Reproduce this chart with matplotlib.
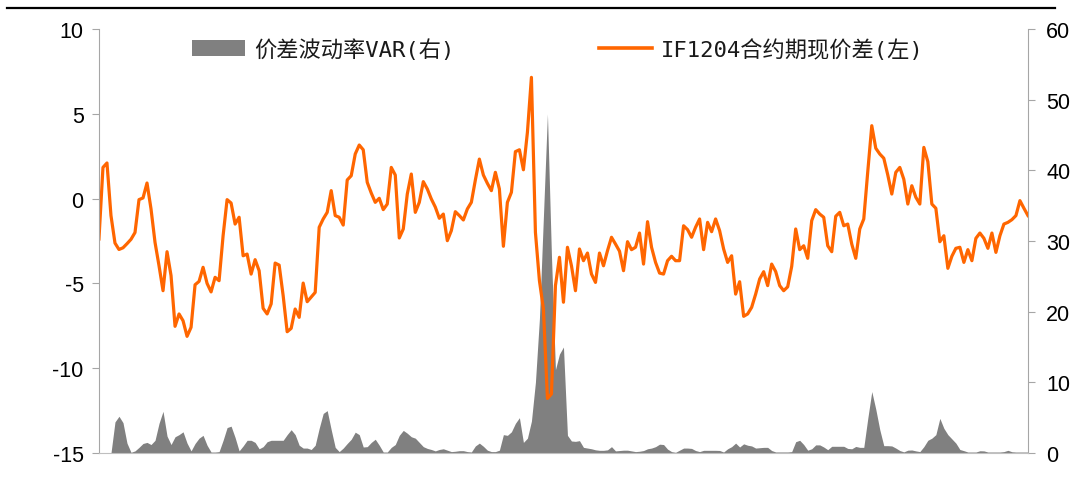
import numpy as np
import matplotlib.pyplot as plt
from matplotlib.lines import Line2D
from matplotlib.patches import Patch

# IF1204 期现价差 (left axis) and 价差波动率VAR (right axis), one value per trading day
spread = [-2.38, 1.84, 2.1, -1.0, -2.62, -3.0, -2.9, -2.66, -2.4, -2.0,
          -0.06, 0.04, 0.92, -0.61, -2.58, -3.96, -5.43, -3.13, -4.54, -7.53,
          -6.8, -7.2, -8.12, -7.59, -5.08, -4.88, -4.05, -5.0, -5.5, -4.64,
          -4.84, -2.19, -0.06, -0.26, -1.5, -1.1, -3.37, -3.27, -4.45, -3.6,
          -4.25, -6.47, -6.8, -6.21, -3.8, -3.92, -5.72, -7.85, -7.65, -6.51,
          -7.0, -4.98, -6.08, -5.8, -5.53, -1.69, -1.2, -0.81, 0.47, -1.0,
          -1.1, -1.56, 1.1, 1.35, 2.63, 3.16, 2.88, 0.96, 0.33, -0.22,
          0.02, -0.65, -0.32, 1.84, 1.39, -2.32, -1.79, 0.27, 1.45, -0.81,
          -0.22, 1.0, 0.57, -0.02, -0.5, -1.16, -0.91, -2.48, -1.89, -0.77,
          -1.0, -1.26, -0.61, -0.22, 1.1, 2.33, 1.39, 0.9, 0.47, 1.55,
          0.57, -2.81, -0.22, 0.37, 2.77, 2.88, 1.7, 3.91, 7.15, -1.99,
          -4.84, -6.51, -11.78, -11.52, -5.13, -3.46, -6.11, -2.87, -3.96, -5.43,
          -2.97, -3.66, -3.21, -4.45, -4.94, -3.21, -3.96, -3.07, -2.28, -2.68,
          -3.1, -4.25, -2.54, -3.01, -2.87, -2.03, -3.86, -1.36, -2.87, -3.76,
          -4.39, -4.45, -3.66, -3.4, -3.66, -3.66, -1.6, -1.83, -2.28, -1.69,
          -1.2, -3.01, -1.4, -1.95, -1.2, -1.89, -2.97, -3.76, -3.37, -5.63,
          -4.9, -6.94, -6.8, -6.41, -5.63, -4.74, -4.31, -5.13, -3.86, -4.3,
          -5.13, -5.43, -5.2, -4.0, -1.79, -3.01, -2.78, -3.52, -1.3, -0.65,
          -0.91, -1.1, -2.78, -3.13, -1.04, -0.81, -1.6, -1.5, -2.68, -3.52,
          -1.79, -1.2, 1.6, 4.3, 2.97, 2.63, 2.38, 1.39, 0.27, 1.55,
          1.84, 1.14, -0.32, 0.76, 0.08, -0.32, 3.02, 2.18, -0.32, -0.57,
          -2.54, -2.19, -4.11, -3.4, -2.93, -2.87, -3.76, -3.01, -3.66, -2.34,
          -2.03, -2.34, -2.93, -2.03, -3.17, -2.19, -1.5, -1.4, -1.24, -1.0,
          -0.12, -0.57, -1.0]

var = [0, 0, 0, 0, 4.4, 5.2, 4.3, 1.4, 0.1, 0.3,
       0.8, 1.35, 1.5, 1.2, 1.8, 4.2, 5.9, 2.4, 1.2, 2.3,
       2.6, 3.0, 1.4, 0.3, 1.35, 2.1, 2.5, 1.1, 0.14, 0.14,
       0.2, 1.8, 3.6, 3.8, 2.2, 0.3, 1.0, 1.8, 1.8, 1.5,
       0.6, 0.9, 1.6, 1.8, 1.8, 1.8, 1.8, 2.6, 3.3, 2.6,
       1.1, 0.7, 0.7, 0.5, 1.1, 3.5, 5.6, 6.0, 3.3, 0.8,
       0.2, 0.7, 1.35, 1.95, 2.95, 2.6, 0.85, 0.9, 1.5, 1.95,
       1.1, 0.14, 0.14, 0.8, 1.2, 2.5, 3.2, 2.8, 2.3, 2.1,
       1.5, 0.9, 0.65, 0.5, 0.3, 0.5, 0.6, 0.4, 0.2, 0.25,
       0.33, 0.33, 0.2, 0.15, 1.0, 1.4, 0.95, 0.4, 0.2, 0.2,
       0.4, 2.6, 2.5, 3.0, 4.2, 5.0, 1.5, 2.1, 4.5, 10.0,
       19.0, 33.5, 48.0, 28.0, 11.8, 14.0, 15.0, 2.5, 1.7, 1.65,
       1.75, 0.8, 0.7, 0.6, 0.45, 0.38, 0.38, 0.45, 0.9, 0.3,
       0.35, 0.4, 0.4, 0.3, 0.2, 0.25, 0.35, 0.6, 0.7, 0.9,
       1.25, 1.2, 0.55, 0.2, 0.1, 0.4, 0.7, 0.7, 0.65, 0.35,
       0.2, 0.38, 0.38, 0.38, 0.38, 0.36, 0.14, 0.6, 0.9, 1.4,
       0.85, 1.3, 1.1, 1.0, 0.7, 0.75, 0.8, 0.8, 0.35, 0.15,
       0.15, 0.15, 0.15, 0.2, 1.6, 1.8, 1.2, 0.4, 0.6, 1.15,
       1.15, 0.85, 0.47, 0.95, 0.95, 0.95, 0.95, 0.65, 0.6, 0.93,
       0.8, 0.8, 4.9, 8.7, 6.2, 3.3, 1.04, 1.04, 1.0, 0.7,
       0.35, 0.16, 0.4, 0.43, 0.3, 0.2, 0.9, 1.8, 2.1, 2.6,
       4.9, 3.5, 2.6, 2.0, 1.4, 0.5, 0.33, 0.14, 0.14, 0.14,
       0.32, 0.3, 0.14, 0.14, 0.14, 0.14, 0.2, 0.38, 0.18, 0.14,
       0.14, 0.14, 0.14]

left_ticks = [-15, -10, -5, 0, 5, 10]
right_ticks = [0, 10, 20, 30, 40, 50, 60]
labels = ["价差波动率VAR(右)", "IF1204合约期现价差(左)"]

plt.rcParams['font.family'] = ['Liberation Sans', 'DejaVu Sans']
plt.rcParams['axes.unicode_minus'] = False

fig = plt.figure(figsize=(10.71, 4.81), dpi=100)
ax = fig.add_axes([0.0924, 0.0561, 0.8674, 0.8815])
ax2 = ax.twinx()
ax.set_zorder(ax2.get_zorder() + 1)
ax.patch.set_visible(False)

days = np.arange(len(spread))
ax2.fill_between(days, 0, var, color="#808080", lw=0)
ax.plot(days, spread, color="#FF6600", lw=2.3)

ax.set_xlim(0, len(days) - 1)
ax.set_ylim(-15, 10)
ax.set_yticks(left_ticks)
ax2.set_ylim(0, 60)
ax2.set_yticks(right_ticks)
ax.set_xticks([])

axis_grey = "#A6A6A6"
for a in (ax, ax2):
    for s in a.spines.values():
        s.set_visible(False)
ax.spines["left"].set_visible(True)
ax.spines["left"].set_color(axis_grey)
ax.spines["bottom"].set_visible(True)
ax.spines["bottom"].set_color("#BFBFBF")
ax2.spines["right"].set_visible(True)
ax2.spines["right"].set_color(axis_grey)

ax.tick_params(axis="y", direction="out", length=5, width=0.8, color=axis_grey,
               labelsize=15.5, pad=6)
ax2.tick_params(axis="y", direction="out", length=5, width=0.8, color=axis_grey,
                labelsize=15.5, pad=8)

handles = [Patch(facecolor="#808080", edgecolor="none"),
           Line2D([], [], color="#FF6600", lw=2.6)]
fig.legend(handles, labels, loc="center left",
           bbox_to_anchor=(192 / 1071, 1 - 50 / 481), ncol=2, frameon=False,
           prop={"family": ["DejaVu Sans Mono", "Noto Sans CJK SC"], "size": 16},
           handlelength=2.4, handleheight=0.72, handletextpad=0.4,
           columnspacing=6.5, borderpad=0, borderaxespad=0, labelcolor="#1a1a1a")

# black rule across the top of the figure
fig.add_artist(Line2D([7 / 1071, 1055 / 1071], [1 - 8.6 / 481] * 2,
                      transform=fig.transFigure, color="black", lw=1.6))

fig.savefig("out.png", dpi=100)
